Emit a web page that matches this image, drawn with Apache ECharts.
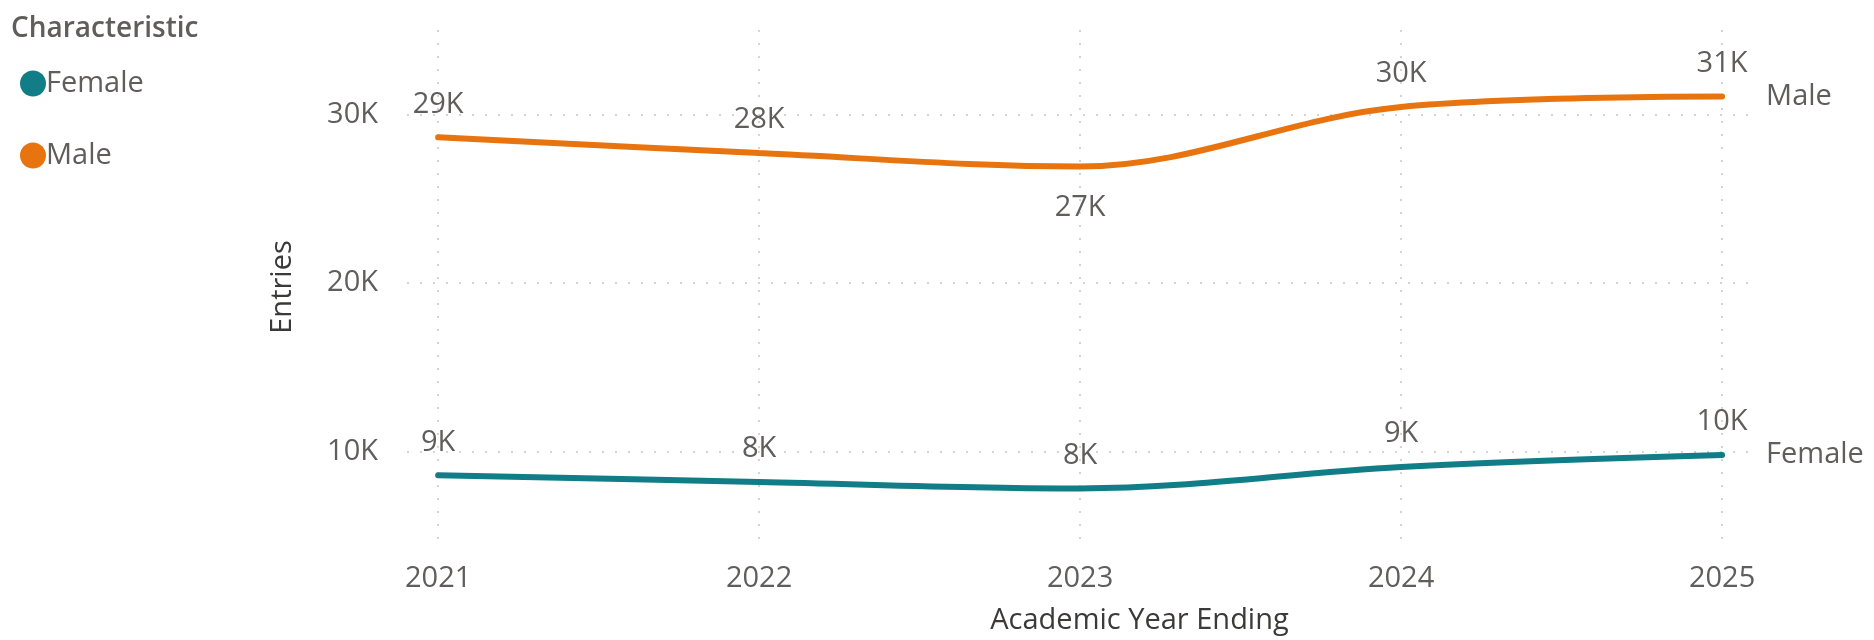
<!DOCTYPE html>
<html>
<head>
<meta charset="utf-8">
<title>Entries by Characteristic</title>
<script src="https://cdn.jsdelivr.net/npm/echarts@6/dist/echarts.min.js"></script>
<style>
  html, body { margin: 0; padding: 0; background: #ffffff; }
  #chart { width: 1874px; height: 640px; }
</style>
</head>
<body>
<div id="chart"></div>
<script>
// Academic years and entries per characteristic
const years = [2021, 2022, 2023, 2024, 2025];
const femaleEntries = [8580, 8180, 7800, 9070, 9780];
const maleEntries = [28630, 27700, 26900, 30430, 31050];
const yTickValues = [10000, 20000, 30000];
const legendTitle = 'Characteristic';
const xAxisTitle = 'Academic Year Ending';
const yAxisTitle = 'Entries';

const FONT = "'Open Sans', 'Noto Sans', sans-serif";
const FONT_SIZE = 29;
const TEXT_GREY = '#605E5C';
const TITLE_GREY = '#3B3A39';
const GRID_GREY = '#C8C6C4';
const COLORS = { Female: '#117D87', Male: '#E8740F' };

const kFormat = v => Math.round(v / 1000) + 'K';

// Labels that sit under the line instead of above it
const labelBelow = { Male: new Set([2023]), Female: new Set() };

function buildSeries(name, values) {
  return {
    name: name,
    type: 'line',
    smooth: 0.35,
    symbol: 'circle',
    symbolSize: 1,
    showSymbol: true,
    data: years.map((y, i) => {
      const item = { value: [y, values[i]] };
      if (labelBelow[name].has(y)) {
        item.label = { position: 'bottom', distance: 26 };
      }
      return item;
    }),
    lineStyle: { width: 6, color: COLORS[name], cap: 'round' },
    itemStyle: { color: COLORS[name] },
    label: {
      show: true,
      position: 'top',
      distance: 18,
      formatter: p => kFormat(p.value[1]),
      color: TEXT_GREY,
      fontFamily: FONT,
      fontSize: FONT_SIZE
    },
    endLabel: {
      show: true,
      formatter: p => p.seriesName,
      distance: 44,
      color: TEXT_GREY,
      fontFamily: FONT,
      fontSize: FONT_SIZE
    },
    emphasis: { disabled: true }
  };
}

const chart = echarts.init(document.getElementById('chart'), null, { renderer: 'canvas' });

chart.setOption({
  animation: false,
  backgroundColor: '#ffffff',
  title: {
    text: legendTitle,
    left: 6,
    top: 10,
    textStyle: { fontFamily: FONT, fontSize: 28, fontWeight: 600, color: TEXT_GREY }
  },
  legend: {
    orient: 'vertical',
    left: 15,
    top: 64,
    icon: 'circle',
    itemWidth: 26,
    itemHeight: 26,
    itemGap: 43,
    textStyle: { fontFamily: FONT, fontSize: FONT_SIZE, color: TEXT_GREY, padding: [0, 0, 0, -5] },
    data: ['Female', 'Male']
  },
  grid: { left: 407, right: 124, top: 30, bottom: 96 },
  xAxis: {
    type: 'value',
    min: 2020.903,
    max: 2025.087,
    name: xAxisTitle,
    nameLocation: 'middle',
    nameGap: 62,
    nameTextStyle: {
      fontFamily: FONT,
      fontSize: FONT_SIZE,
      color: TITLE_GREY,
      padding: [0, 0, 0, 122]
    },
    axisLine: { show: false },
    axisTick: { show: false, customValues: years },
    axisLabel: {
      customValues: years,
      margin: 20,
      formatter: v => String(v),
      fontFamily: FONT,
      fontSize: FONT_SIZE,
      color: TEXT_GREY
    },
    splitLine: { show: true, lineStyle: { color: GRID_GREY, type: [2, 11], width: 1.5 } }
  },
  yAxis: {
    type: 'value',
    min: 4500,
    max: 35000,
    name: yAxisTitle,
    nameLocation: 'middle',
    nameGap: 110,
    nameTextStyle: { fontFamily: FONT, fontSize: FONT_SIZE, color: TITLE_GREY },
    axisLine: { show: false },
    axisTick: { show: false, customValues: yTickValues },
    axisLabel: {
      customValues: yTickValues,
      margin: 29,
      formatter: v => kFormat(v),
      fontFamily: FONT,
      fontSize: FONT_SIZE,
      color: TEXT_GREY
    },
    splitLine: { show: true, lineStyle: { color: GRID_GREY, type: [2, 11], width: 1.5 } }
  },
  series: [
    buildSeries('Female', femaleEntries),
    buildSeries('Male', maleEntries)
  ]
});
</script>
</body>
</html>
